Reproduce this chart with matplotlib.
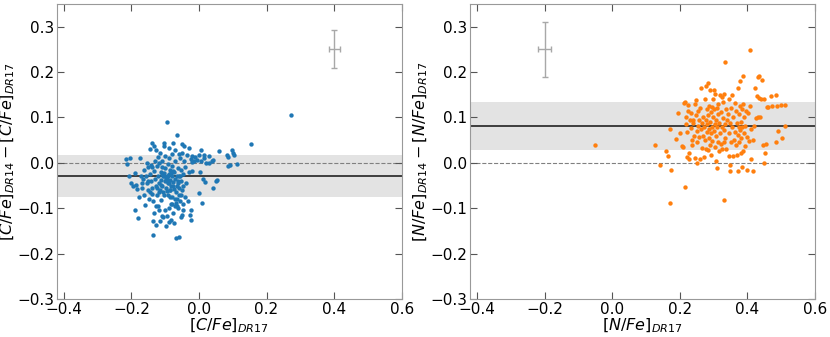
import numpy as np
import matplotlib
matplotlib.use("Agg")
import matplotlib.pyplot as plt

# [C/Fe] DR17 vs (DR14 - DR17)
c_x = [-0.215, -0.213, -0.208, -0.205, -0.200, -0.195, -0.190, -0.185, -0.182, -0.178,
       -0.188, -0.181, -0.175, -0.172, -0.168, -0.165, -0.162, -0.160, -0.158, -0.155,
       -0.152, -0.150, -0.148, -0.146, -0.145, -0.143, -0.142, -0.140, -0.139, -0.138,
       -0.136, -0.135, -0.134, -0.134, -0.132, -0.130, -0.128, -0.126, -0.126, -0.125,
       -0.124, -0.122, -0.120, -0.119, -0.118, -0.116, -0.114, -0.113, -0.112, -0.111,
       -0.110, -0.109, -0.108, -0.106, -0.105, -0.104, -0.103, -0.102, -0.101, -0.100,
       -0.099, -0.098, -0.097, -0.096, -0.095, -0.094, -0.093, -0.092, -0.091, -0.090,
       -0.089, -0.088, -0.087, -0.086, -0.085, -0.084, -0.083, -0.082, -0.081, -0.080,
       -0.079, -0.078, -0.077, -0.076, -0.075, -0.074, -0.073, -0.072, -0.071, -0.070,
       -0.069, -0.067, -0.066, -0.065, -0.064, -0.063, -0.062, -0.061, -0.060, -0.059,
       -0.058, -0.057, -0.056, -0.055, -0.054, -0.053, -0.052, -0.050, -0.050, -0.050,
       -0.049, -0.048, -0.047, -0.046, -0.045, -0.043, -0.042, -0.040, -0.038, -0.035,
       -0.033, -0.030, -0.028, -0.026, -0.025, -0.023, -0.023, -0.022, -0.022, -0.021,
       -0.016, -0.011, -0.006, 0.000, 0.000, 0.003, 0.005, 0.007, 0.010, 0.012,
       0.014, 0.016, 0.018, 0.021, 0.030, 0.031, 0.038, 0.043, 0.043, 0.050,
       0.053, 0.058, 0.083, 0.086, 0.086, 0.092, 0.098, 0.100, 0.105, 0.112,
       0.154, 0.273,
       -0.135, -0.128, -0.117, -0.114, -0.107, -0.095, -0.090, -0.085, -0.081, -0.072,
       -0.068, -0.064, -0.046, -0.120, -0.110, -0.100, -0.090, -0.080, -0.070, -0.060,
       -0.130, -0.140, -0.155, -0.104, -0.098, -0.092, -0.108, -0.096, -0.088, -0.112,
       -0.078, -0.076, -0.084, -0.066, -0.062, -0.060, -0.053, -0.150, -0.162, -0.170,
       -0.145, -0.118, -0.125, -0.103, -0.095, -0.085]
c_dy = [0.008, -0.003, -0.030, 0.010, -0.045, -0.052, -0.022, -0.048, -0.058, -0.076,
        -0.104, -0.121, 0.010, -0.030, -0.055, -0.035, -0.070, -0.092, -0.028, -0.045,
        -0.060, -0.010, -0.080, 0.030, -0.025, -0.005, -0.040, -0.055, 0.043, -0.068,
        -0.158, -0.128, 0.037, -0.110, -0.018, -0.035, -0.050, 0.028, -0.138, -0.008,
        -0.072, -0.095, -0.028, -0.045, 0.000, -0.060, 0.021, -0.020, -0.038, -0.082,
        -0.117, -0.010, -0.050, -0.030, -0.065, 0.043, -0.022, 0.038, -0.040, -0.105,
        -0.012, -0.139, -0.055, -0.028, 0.091, -0.035, -0.002, -0.070, -0.045, -0.025,
        -0.130, 0.033, -0.060, -0.015, -0.038, -0.090, -0.125, -0.050, -0.008, -0.030,
        -0.075, -0.110, 0.044, -0.042, -0.132, -0.020, -0.058, 0.005, -0.095, -0.035,
        -0.065, -0.165, -0.028, 0.062, -0.080, -0.045, -0.012, -0.100, -0.163, -0.055,
        -0.070, 0.010, -0.030, -0.085, -0.120, -0.040, -0.015, 0.041, 0.021, -0.114,
        -0.060, -0.103, -0.025, -0.050, 0.005, 0.037, -0.075, -0.010, -0.045, 0.018,
        -0.084, 0.032, -0.020, -0.114, 0.008, -0.104, -0.126, 0.015, 0.001, -0.018,
        0.004, 0.013, 0.007, 0.018, -0.067, -0.020, 0.005, 0.029, -0.088, -0.035,
        0.018, 0.010, -0.042, 0.000, -0.001, 0.015, 0.003, 0.007, -0.056, -0.040,
        -0.037, 0.026, 0.018, 0.012, -0.006, -0.005, 0.028, 0.022, 0.018, -0.003,
        0.042, 0.105,
        -0.085, -0.095, -0.105, -0.128, -0.120, -0.118, -0.100, -0.075, -0.090, -0.080,
        -0.088, -0.095, -0.090, 0.012, 0.005, 0.015, 0.010, 0.020, 0.028, 0.020,
        0.005, -0.010, 0.000, -0.030, -0.035, -0.028, -0.025, -0.040, -0.045, -0.048,
        -0.052, -0.018, -0.022, -0.050, -0.040, -0.030, -0.070, -0.040, -0.015, -0.045,
        -0.065, -0.065, -0.055, -0.072, -0.062, -0.060]

# [N/Fe] DR17 vs (DR14 - DR17)
n_x = [-0.052, 0.127, 0.142, 0.159, 0.164, 0.171, 0.171, 0.174, 0.190, 0.195,
       0.200, 0.205, 0.208, 0.212, 0.214, 0.215, 0.217, 0.218, 0.220, 0.222,
       0.224, 0.225, 0.226, 0.228, 0.230, 0.232, 0.233, 0.235, 0.236, 0.238,
       0.240, 0.242, 0.244, 0.246, 0.247, 0.248, 0.250, 0.251, 0.252, 0.254,
       0.255, 0.256, 0.258, 0.260, 0.261, 0.262, 0.263, 0.265, 0.266, 0.268,
       0.270, 0.271, 0.272, 0.274, 0.275, 0.276, 0.277, 0.278, 0.279, 0.280,
       0.281, 0.282, 0.283, 0.284, 0.285, 0.286, 0.287, 0.288, 0.289, 0.290,
       0.291, 0.292, 0.293, 0.294, 0.295, 0.296, 0.298, 0.299, 0.300, 0.301,
       0.302, 0.303, 0.304, 0.305, 0.306, 0.307, 0.308, 0.309, 0.310, 0.311,
       0.312, 0.313, 0.314, 0.315, 0.316, 0.318, 0.320, 0.321, 0.322, 0.324,
       0.325, 0.326, 0.327, 0.328, 0.330, 0.330, 0.331, 0.332, 0.333, 0.334,
       0.335, 0.336, 0.338, 0.340, 0.342, 0.344, 0.345, 0.346, 0.347, 0.348,
       0.349, 0.350, 0.352, 0.353, 0.355, 0.356, 0.358, 0.360, 0.362, 0.364,
       0.365, 0.366, 0.368, 0.370, 0.371, 0.372, 0.373, 0.374, 0.375, 0.376,
       0.377, 0.378, 0.379, 0.380, 0.381, 0.382, 0.383, 0.384, 0.385, 0.386,
       0.387, 0.388, 0.389, 0.390, 0.392, 0.394, 0.396, 0.398, 0.400, 0.402,
       0.405, 0.407, 0.409, 0.410, 0.412, 0.415, 0.417, 0.420, 0.423, 0.425,
       0.428, 0.430, 0.432, 0.433, 0.434, 0.436, 0.440, 0.442, 0.445, 0.449,
       0.450, 0.453, 0.455, 0.458, 0.460, 0.470, 0.472, 0.483, 0.485, 0.488,
       0.491, 0.500, 0.501, 0.510, 0.511]
n_dy = [0.040, 0.039, -0.005, 0.026, 0.015, 0.075, -0.088, -0.016, 0.052, 0.110,
        0.065, 0.036, 0.035, 0.132, -0.054, 0.135, 0.100, 0.085, 0.012, 0.068,
        0.128, 0.115, 0.008, 0.022, 0.095, 0.076, 0.110, 0.050, 0.040, 0.095,
        0.088, 0.060, 0.130, 0.011, 0.138, 0.105, 0.070, 0.045, 0.000, 0.082,
        0.115, 0.058, 0.095, 0.008, 0.120, 0.075, 0.165, 0.088, 0.032, 0.060,
        0.100, 0.012, 0.078, 0.140, 0.050, 0.095, 0.030, 0.170, 0.068, 0.085,
        0.118, 0.028, 0.176, 0.105, 0.055, 0.075, 0.125, 0.160, 0.040, 0.090,
        0.112, 0.065, 0.018, 0.122, 0.080, 0.048, 0.140, 0.100, 0.070, 0.118,
        0.160, 0.035, 0.085, 0.152, 0.003, 0.095, 0.060, -0.012, 0.120, 0.078,
        0.045, 0.108, 0.130, 0.025, 0.088, 0.150, 0.065, 0.042, 0.112, 0.145,
        0.080, 0.030, 0.098, 0.135, 0.045, -0.083, 0.152, 0.072, 0.223, 0.085,
        0.055, 0.118, 0.030, 0.095, 0.108, 0.140, 0.065, 0.016, -0.005, 0.088,
        -0.018, 0.120, 0.045, 0.150, 0.078, 0.016, 0.100, 0.050, 0.132, 0.068,
        0.040, 0.115, 0.088, 0.018, 0.062, 0.165, -0.018, 0.080, 0.108, 0.045,
        0.180, 0.072, 0.125, 0.022, 0.090, 0.055, -0.010, 0.078, 0.118, 0.025,
        0.130, 0.192, 0.065, 0.100, 0.082, 0.038, 0.115, 0.058, -0.015, 0.110,
        0.048, 0.125, 0.249, 0.008, 0.075, 0.050, -0.019, 0.082, 0.165, 0.098,
        0.148, 0.100, 0.190, 0.143, 0.192, 0.100, 0.140, 0.182, 0.040, 0.000,
        0.140, 0.022, 0.042, 0.124, 0.122, 0.147, 0.125, 0.150, 0.047, 0.126,
        0.070, 0.127, 0.055, 0.127, 0.081]

# mean offset and scatter
c_mean, c_std = -0.029, 0.047
n_mean, n_std = 0.081, 0.053
# typical uncertainties (x, y, xerr, yerr)
c_err = (0.40, 0.25, 0.016, 0.042)
n_err = (-0.20, 0.25, 0.020, 0.061)

fig = plt.figure(figsize=(8.3, 3.37), dpi=100)
ax1 = fig.add_axes([0.0687, 0.113, 0.4153, 0.875])
ax2 = fig.add_axes([0.5665, 0.113, 0.4155, 0.875])

panels = [
    (ax1, c_x, c_dy, c_mean, c_std, c_err, '#1f77b4', 'C'),
    (ax2, n_x, n_dy, n_mean, n_std, n_err, '#ff7f0e', 'N'),
]

for ax, x, dy, m, s, err, col, el in panels:
    ax.axhspan(m - s, m + s, color='#e3e3e3', lw=0, zorder=0)
    ax.axhline(0, color='gray', ls='--', lw=0.8, zorder=1)
    ax.axhline(m, color='#222222', lw=1.2, zorder=1)
    ax.scatter(x, dy, s=10, color=col, lw=0, zorder=3)
    ax.errorbar(err[0], err[1], xerr=err[2], yerr=err[3], color='#a8a8a8',
                lw=1, capsize=2, capthick=1, zorder=2)
    ax.set_xlim(-0.42, 0.6)
    ax.set_ylim(-0.3, 0.35)
    ax.set_xticks([-0.4, -0.2, 0.0, 0.2, 0.4, 0.6])
    ax.set_yticks([-0.3, -0.2, -0.1, 0.0, 0.1, 0.2, 0.3])
    ax.tick_params(direction='in', top=True, right=True, length=5,
                   color='#555555', labelsize=11, pad=2)
    for sp in ax.spines.values():
        sp.set_color('#999999')
    ax.set_xlabel(r'$[%s/Fe]_{DR17}$' % el, fontsize=11.5, labelpad=0)
    ax.set_ylabel(r'$[%s/Fe]_{DR14} - [%s/Fe]_{DR17}$' % (el, el), fontsize=11.5, labelpad=0)

fig.savefig('out.png', dpi=100)
